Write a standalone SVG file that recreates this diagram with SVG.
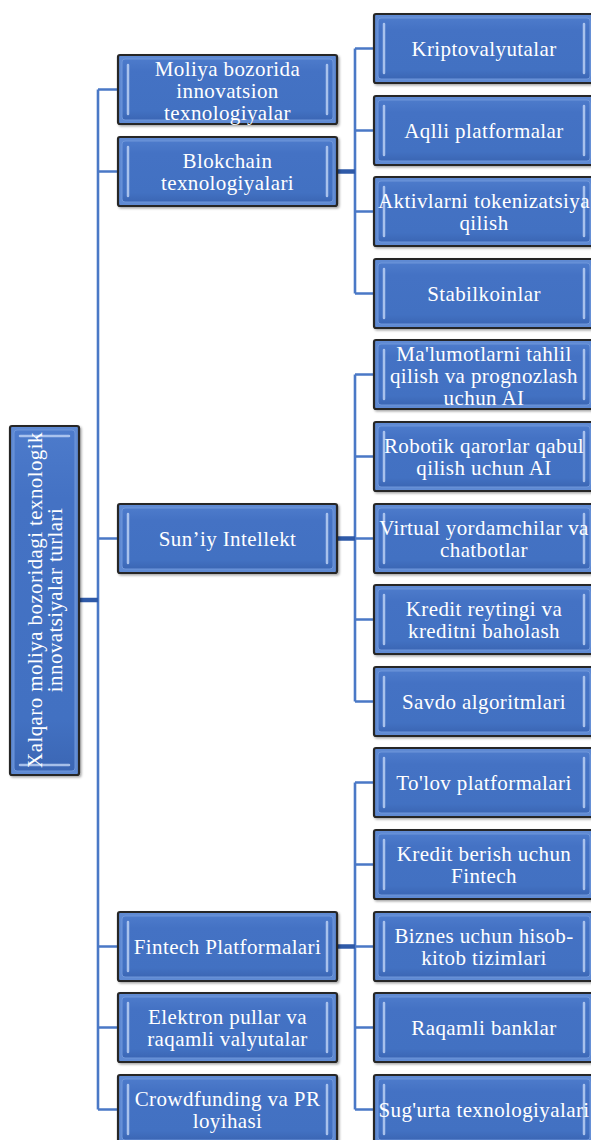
<svg xmlns="http://www.w3.org/2000/svg" width="591" height="1140" viewBox="0 0 591 1140">
<style>
.box{fill:#5f8ad3;stroke:#262626;stroke-width:2.2;filter:url(#sh)}
.in{fill:url(#bg);stroke:#6e96da;stroke-width:1}
.hl{stroke:#c2d6f6;stroke-opacity:0.8;stroke-width:2.5;stroke-linecap:round;fill:none}
.t{font-family:"Liberation Serif","Times New Roman",serif;font-size:21px;fill:#ffffff;text-anchor:middle;letter-spacing:0.4px}
.ln{stroke:#4a78c6;stroke-width:2.6;fill:none}
.th{stroke:#2f5aa8;stroke-width:4.5;fill:none}
</style>
<defs>
<linearGradient id="bg" x1="0" y1="0" x2="0" y2="1">
<stop offset="0" stop-color="#4d7bcb"/>
<stop offset="0.2" stop-color="#4472c4"/>
<stop offset="0.85" stop-color="#4271c2"/>
<stop offset="1" stop-color="#3b66b4"/>
</linearGradient>
<filter id="sh" x="-10%" y="-10%" width="125%" height="125%">
<feDropShadow dx="1.5" dy="1.5" stdDeviation="1.2" flood-color="#000" flood-opacity="0.35"/>
</filter>
</defs>
<g id="connectors">
<path class="ln" d="M98,89.5V1109.5M98,89.5H118M98,171.5H118M98,538.5H118M98,946.5H118M98,1027.5H118M98,1109.5H118"/>
<path class="th" d="M79,600H98"/>
<path class="ln" d="M355,48.5V293.5M355,48.5H374M355,130.5H374M355,211.5H374M355,293.5H374"/>
<path class="th" d="M337,171.5H355"/>
<path class="ln" d="M355,374.5V701.5M355,374.5H374M355,456.5H374M355,538.5H374M355,619.5H374M355,701.5H374"/>
<path class="th" d="M337,538.5H355"/>
<path class="ln" d="M355,782.5V1109.5M355,782.5H374M355,864.5H374M355,946.5H374M355,1027.5H374M355,1109.5H374"/>
<path class="th" d="M337,946.5H355"/>
</g>
<g id="root">
<rect class="box" x="10" y="426" width="69" height="349" rx="2"/>
<rect class="in" x="14" y="430" width="61" height="341" rx="3"/>
<path class="hl" d="M20,436H69M20,765H69"/>
<g transform="translate(44.5,600) rotate(-90)">
<text class="t" x="0" y="-2.5">Xalqaro moliya bozoridagi texnologik</text>
<text class="t" x="0" y="17.5">innovatsiyalar turlari</text>
</g>
</g>
<g id="n-moliya">
<rect class="box" x="118" y="55" width="219" height="69" rx="2"/>
<rect class="in" x="122" y="59" width="211" height="61" rx="3"/>
<path class="hl" d="M128,65V114M327,65V114"/>
<text class="t" x="227.5" y="75.5">Moliya bozorida</text>
<text class="t" x="227.5" y="97.5">innovatsion</text>
<text class="t" x="227.5" y="119.5">texnologiyalar</text>
</g>
<g id="n-blokchain">
<rect class="box" x="118" y="137" width="219" height="69" rx="2"/>
<rect class="in" x="122" y="141" width="211" height="61" rx="3"/>
<path class="hl" d="M128,147V196M327,147V196"/>
<text class="t" x="227.5" y="168">Blokchain</text>
<text class="t" x="227.5" y="190">texnologiyalari</text>
</g>
<g id="n-suniy">
<rect class="box" x="118" y="504" width="219" height="69" rx="2"/>
<rect class="in" x="122" y="508" width="211" height="61" rx="3"/>
<path class="hl" d="M128,514V563M327,514V563"/>
<text class="t" x="227.5" y="546">Sun’iy Intellekt</text>
</g>
<g id="n-fintech">
<rect class="box" x="118" y="912" width="219" height="69" rx="2"/>
<rect class="in" x="122" y="916" width="211" height="61" rx="3"/>
<path class="hl" d="M128,922V971M327,922V971"/>
<text class="t" x="227.5" y="954">Fintech Platformalari</text>
</g>
<g id="n-elektron">
<rect class="box" x="118" y="993" width="219" height="69" rx="2"/>
<rect class="in" x="122" y="997" width="211" height="61" rx="3"/>
<path class="hl" d="M128,1003V1052M327,1003V1052"/>
<text class="t" x="227.5" y="1024">Elektron pullar va</text>
<text class="t" x="227.5" y="1046">raqamli valyutalar</text>
</g>
<g id="n-crowd">
<rect class="box" x="118" y="1075" width="219" height="69" rx="2"/>
<rect class="in" x="122" y="1079" width="211" height="61" rx="3"/>
<path class="hl" d="M128,1085V1134M327,1085V1134"/>
<text class="t" x="227.5" y="1106">Crowdfunding va PR</text>
<text class="t" x="227.5" y="1128">loyihasi</text>
</g>
<g id="r-kripto">
<rect class="box" x="374" y="14" width="220" height="69" rx="2"/>
<rect class="in" x="378" y="18" width="212" height="61" rx="3"/>
<path class="hl" d="M384,24V73M584,24V73"/>
<text class="t" x="484" y="56">Kriptovalyutalar</text>
</g>
<g id="r-aqlli">
<rect class="box" x="374" y="96" width="220" height="69" rx="2"/>
<rect class="in" x="378" y="100" width="212" height="61" rx="3"/>
<path class="hl" d="M384,106V155M584,106V155"/>
<text class="t" x="484" y="138">Aqlli platformalar</text>
</g>
<g id="r-aktiv">
<rect class="box" x="374" y="177" width="220" height="69" rx="2"/>
<rect class="in" x="378" y="181" width="212" height="61" rx="3"/>
<path class="hl" d="M384,187V236M584,187V236"/>
<text class="t" x="484" y="208">Aktivlarni tokenizatsiya</text>
<text class="t" x="484" y="230">qilish</text>
</g>
<g id="r-stabil">
<rect class="box" x="374" y="259" width="220" height="69" rx="2"/>
<rect class="in" x="378" y="263" width="212" height="61" rx="3"/>
<path class="hl" d="M384,269V318M584,269V318"/>
<text class="t" x="484" y="301">Stabilkoinlar</text>
</g>
<g id="r-malumot">
<rect class="box" x="374" y="340" width="220" height="69" rx="2"/>
<rect class="in" x="378" y="344" width="212" height="61" rx="3"/>
<path class="hl" d="M384,350V399M584,350V399"/>
<text class="t" x="484" y="361">Ma'lumotlarni tahlil</text>
<text class="t" x="484" y="383">qilish va prognozlash</text>
<text class="t" x="484" y="405">uchun AI</text>
</g>
<g id="r-robotik">
<rect class="box" x="374" y="422" width="220" height="69" rx="2"/>
<rect class="in" x="378" y="426" width="212" height="61" rx="3"/>
<path class="hl" d="M384,432V481M584,432V481"/>
<text class="t" x="484" y="453">Robotik qarorlar qabul</text>
<text class="t" x="484" y="475">qilish uchun AI</text>
</g>
<g id="r-virtual">
<rect class="box" x="374" y="504" width="220" height="69" rx="2"/>
<rect class="in" x="378" y="508" width="212" height="61" rx="3"/>
<path class="hl" d="M384,514V563M584,514V563"/>
<text class="t" x="484" y="535">Virtual yordamchilar va</text>
<text class="t" x="484" y="557">chatbotlar</text>
</g>
<g id="r-kredit">
<rect class="box" x="374" y="585" width="220" height="69" rx="2"/>
<rect class="in" x="378" y="589" width="212" height="61" rx="3"/>
<path class="hl" d="M384,595V644M584,595V644"/>
<text class="t" x="484" y="616">Kredit reytingi va</text>
<text class="t" x="484" y="638">kreditni baholash</text>
</g>
<g id="r-savdo">
<rect class="box" x="374" y="667" width="220" height="69" rx="2"/>
<rect class="in" x="378" y="671" width="212" height="61" rx="3"/>
<path class="hl" d="M384,677V726M584,677V726"/>
<text class="t" x="484" y="709">Savdo algoritmlari</text>
</g>
<g id="r-tolov">
<rect class="box" x="374" y="748" width="220" height="69" rx="2"/>
<rect class="in" x="378" y="752" width="212" height="61" rx="3"/>
<path class="hl" d="M384,758V807M584,758V807"/>
<text class="t" x="484" y="790">To'lov platformalari</text>
</g>
<g id="r-kreditf">
<rect class="box" x="374" y="830" width="220" height="69" rx="2"/>
<rect class="in" x="378" y="834" width="212" height="61" rx="3"/>
<path class="hl" d="M384,840V889M584,840V889"/>
<text class="t" x="484" y="861">Kredit berish uchun</text>
<text class="t" x="484" y="883">Fintech</text>
</g>
<g id="r-biznes">
<rect class="box" x="374" y="912" width="220" height="69" rx="2"/>
<rect class="in" x="378" y="916" width="212" height="61" rx="3"/>
<path class="hl" d="M384,922V971M584,922V971"/>
<text class="t" x="484" y="943">Biznes uchun hisob-</text>
<text class="t" x="484" y="965">kitob tizimlari</text>
</g>
<g id="r-raqamli">
<rect class="box" x="374" y="993" width="220" height="69" rx="2"/>
<rect class="in" x="378" y="997" width="212" height="61" rx="3"/>
<path class="hl" d="M384,1003V1052M584,1003V1052"/>
<text class="t" x="484" y="1035">Raqamli banklar</text>
</g>
<g id="r-sugurta">
<rect class="box" x="374" y="1075" width="220" height="69" rx="2"/>
<rect class="in" x="378" y="1079" width="212" height="61" rx="3"/>
<path class="hl" d="M384,1085V1134M584,1085V1134"/>
<text class="t" x="484" y="1117">Sug'urta texnologiyalari</text>
</g>
</svg>
